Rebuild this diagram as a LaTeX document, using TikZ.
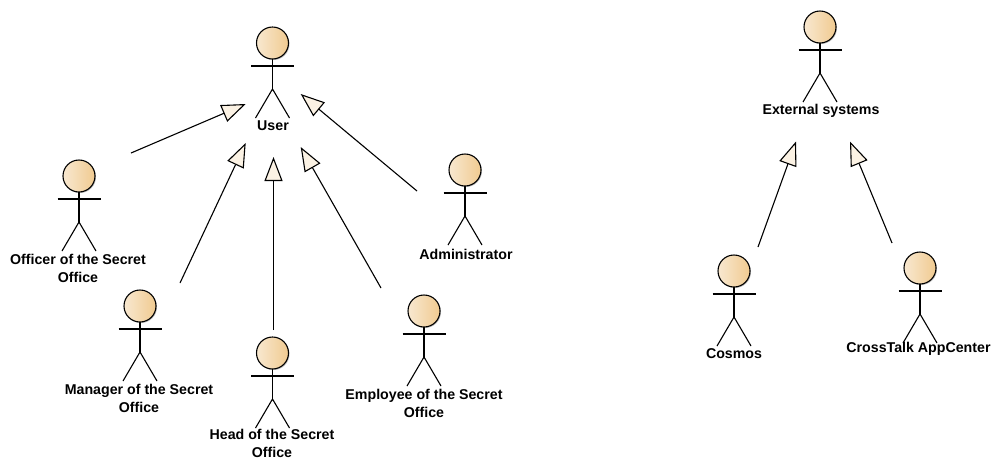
\documentclass[tikz,border=0pt]{standalone}
\usepackage{fontspec}
\setmainfont{Liberation Sans}
\usetikzlibrary{arrows.meta}
\definecolor{headL}{HTML}{F8E8D0}
\definecolor{headR}{HTML}{F0CA90}
\definecolor{tipfill}{HTML}{FBF2E4}
\tikzset{
  x=1pt,y=-1pt,
  stick/.style={draw=black,line width=1.1pt},
  actorlabel/.style={font=\bfseries\fontsize{14.2}{18}\selectfont,align=center,inner sep=0pt,text=black},
  gen/.style={draw=black,line width=1.1pt,-{Triangle[open,length=24pt,width=18pt,fill=tipfill,line width=1.1pt]}},
}
\newcommand{\actor}[3]{% name, x, y (head centre)
  \begin{scope}[shift={(#2,#3)}]
    \fill[black!25] (1,1) circle (16);
    \shade[left color=headL,right color=headR] (0,0) circle (16);
    \draw[stick] (0,0) circle (16);
    \draw[stick] (-21.5,23) -- (21.5,23);
    \draw[stick] (0,16) -- (0,46);
    \draw[stick] (-17,75) -- (0,46) -- (17,75);
  \end{scope}
  \coordinate (#1) at (#2,#3);
}
\begin{document}
\begin{tikzpicture}
\useasboundingbox (0,0) rectangle (992,459);
\actor{user}{272.5}{43}
\actor{officer}{79}{176}
\actor{manager}{140}{306}
\actor{headso}{272.5}{353}
\actor{employee}{424}{311}
\actor{admin}{465}{170}
\actor{external}{820}{27}
\actor{cosmos}{734}{271}
\actor{crosstalk}{920}{268}
\node[actorlabel] (userL) at (273,126) {User};
\node[actorlabel] (officerL) at (78,268) {Officer of the Secret\\Office};
\node[actorlabel] (managerL) at (139,398) {Manager of the Secret\\Office};
\node[actorlabel] (headL) at (272,443) {Head of the Secret\\Office};
\node[actorlabel] (employeeL) at (424,403) {Employee of the Secret\\Office};
\node[actorlabel] (adminL) at (466,254) {Administrator};
\node[actorlabel] (externalL) at (821,111) {External systems};
\node[actorlabel] (cosmosL) at (734,354) {Cosmos};
\node[actorlabel] (crosstalkL) at (918.5,349) {CrossTalk AppCenter};
\coordinate (o1) at (131,153); \coordinate (o2) at (245.7,104);
\coordinate (m1) at (180,283); \coordinate (m2) at (245.7,143);
\coordinate (h1) at (273.5,330); \coordinate (h2) at (273.5,157);
\coordinate (e1) at (381,288); \coordinate (e2) at (300.7,147);
\coordinate (a1) at (417,191); \coordinate (a2) at (300.7,94);
\coordinate (c1) at (758,247); \coordinate (c2) at (796,141.5);
\coordinate (x1) at (892,243); \coordinate (x2) at (850,141.5);
\draw[gen] (o1) -- (o2);
\draw[gen] (m1) -- (m2);
\draw[gen] (h1) -- (h2);
\draw[gen] (e1) -- (e2);
\draw[gen] (a1) -- (a2);
\draw[gen] (c1) -- (c2);
\draw[gen] (x1) -- (x2);
\end{tikzpicture}
\end{document}
